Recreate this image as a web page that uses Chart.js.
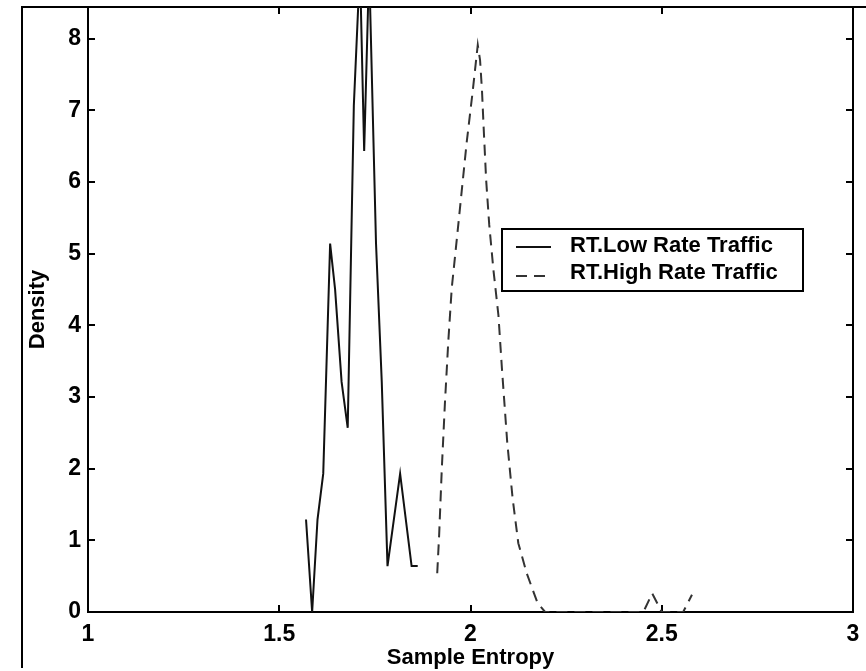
<!DOCTYPE html>
<html>
<head>
<meta charset="utf-8">
<script src="https://cdn.jsdelivr.net/npm/chart.js@4/dist/chart.umd.min.js"></script>
<style>
  html, body { margin: 0; padding: 0; background: #fff; }
  #wrap { width: 866px; height: 671px; position: relative; }
</style>
</head>
<body>
<div id="wrap"><canvas id="c" width="866" height="671"></canvas></div>
<script>
// Sample entropy densities for the two traffic classes
const lowLabel = 'RT.Low Rate Traffic';
const lowX = [1.570, 1.586, 1.600, 1.615, 1.633, 1.646, 1.663, 1.679, 1.695, 1.711, 1.722, 1.735, 1.753, 1.768, 1.783, 1.816, 1.846, 1.862];
const lowY = [1.29, 0.00, 1.29, 1.93, 5.14, 4.50, 3.21, 2.57, 7.07, 9.00, 6.43, 9.00, 5.14, 3.21, 0.64, 1.93, 0.64, 0.64];

const highLabel = 'RT.High Rate Traffic';
const highX = [1.913, 1.918, 1.925, 1.933, 1.942, 1.951, 1.964, 1.977, 1.990, 2.005, 2.019, 2.025, 2.030, 2.034, 2.041, 2.049, 2.060, 2.073, 2.082, 2.096, 2.110, 2.125, 2.147, 2.175, 2.195, 2.300, 2.400, 2.452, 2.475, 2.500, 2.556, 2.579];
const highY = [0.54, 1.07, 2.00, 2.90, 3.78, 4.52, 5.19, 5.87, 6.55, 7.23, 7.91, 7.70, 7.28, 6.80, 6.02, 5.40, 4.77, 4.14, 3.41, 2.37, 1.59, 0.96, 0.54, 0.13, 0.00, 0.00, 0.00, 0.00, 0.26, 0.00, 0.00, 0.24];

const xTicks = [1, 1.5, 2, 2.5, 3];
const yTicks = [0, 1, 2, 3, 4, 5, 6, 7, 8];
const xRange = [1, 3];
const yRange = [0, 8.44];

const FONT = '"Liberation Sans", Arial, Helvetica, sans-serif';
const DASH = [11, 7];

function pairs(xs, ys) { return xs.map((x, i) => ({ x: x, y: ys[i] })); }

// Figure border plus boxed axes with inward ticks on all four sides
const frame = {
  id: 'frame',
  beforeDatasetsDraw(chart) {
    const { ctx, chartArea: a, scales: { x, y } } = chart;
    ctx.save();
    ctx.strokeStyle = '#000';
    ctx.lineWidth = 2;
    ctx.beginPath();
    ctx.moveTo(22, 668); ctx.lineTo(22, a.top); ctx.lineTo(chart.width, a.top);
    ctx.stroke();
    ctx.strokeRect(a.left, a.top, a.right - a.left, a.bottom - a.top);
    const tl = 7;
    ctx.beginPath();
    xTicks.forEach(v => {
      const px = Math.round(x.getPixelForValue(v));
      ctx.moveTo(px, a.bottom); ctx.lineTo(px, a.bottom - tl);
      ctx.moveTo(px, a.top); ctx.lineTo(px, a.top + tl);
    });
    yTicks.forEach(v => {
      const py = Math.round(y.getPixelForValue(v));
      ctx.moveTo(a.left, py); ctx.lineTo(a.left + tl, py);
      ctx.moveTo(a.right, py); ctx.lineTo(a.right - tl, py);
    });
    ctx.stroke();
    ctx.restore();
  }
};

// Boxed legend placed inside the axes
const boxLegend = {
  id: 'boxLegend',
  afterDraw(chart) {
    const { ctx, chartArea: a } = chart;
    const bx = a.left + 414, by = a.top + 222, bw = 301, bh = 62;
    ctx.save();
    ctx.fillStyle = '#fff';
    ctx.fillRect(bx, by, bw, bh);
    ctx.strokeStyle = '#000';
    ctx.lineWidth = 2;
    ctx.strokeRect(bx, by, bw, bh);
    const rows = [
      { ds: chart.data.datasets[0], ly: by + 18, ty: by + 23 },
      { ds: chart.data.datasets[1], ly: by + 47, ty: by + 50 }
    ];
    rows.forEach(r => {
      ctx.beginPath();
      ctx.setLineDash(r.ds.borderDash || []);
      ctx.strokeStyle = r.ds.borderColor;
      ctx.lineWidth = 2;
      ctx.moveTo(bx + 14, r.ly); ctx.lineTo(bx + 49, r.ly);
      ctx.stroke();
      ctx.setLineDash([]);
      ctx.fillStyle = '#000';
      ctx.font = 'bold 22px ' + FONT;
      ctx.textBaseline = 'alphabetic';
      ctx.textAlign = 'left';
      ctx.fillText(r.ds.label, bx + 68, r.ty);
    });
    ctx.restore();
  }
};

new Chart(document.getElementById('c'), {
  type: 'line',
  data: {
    datasets: [
      { label: lowLabel, data: pairs(lowX, lowY), borderColor: '#111', borderWidth: 2,
        pointRadius: 0, tension: 0, fill: false },
      { label: highLabel, data: pairs(highX, highY), borderColor: '#333', borderWidth: 2,
        borderDash: DASH, pointRadius: 0, tension: 0, fill: false }
    ]
  },
  options: {
    responsive: false,
    animation: false,
    devicePixelRatio: 1,
    layout: { padding: { left: 0, top: 7, right: 13, bottom: 0 } },
    plugins: { legend: { display: false }, tooltip: { enabled: false } },
    scales: {
      x: {
        type: 'linear', min: xRange[0], max: xRange[1],
        grid: { display: false, drawTicks: false },
        border: { display: false },
        afterBuildTicks: s => { s.ticks = xTicks.map(v => ({ value: v })); },
        afterFit: s => { s.height = 59; s.paddingLeft = 0; s.paddingRight = 0; },
        ticks: { color: '#000', padding: 9, maxRotation: 0, autoSkip: false,
                 font: { family: FONT, size: 23, weight: 'bold' },
                 callback: v => String(v) },
        title: { display: true, text: 'Sample Entropy', color: '#000',
                 font: { family: FONT, size: 22, weight: 'bold' },
                 padding: { top: 0, bottom: 0 } }
      },
      y: {
        type: 'linear', min: yRange[0], max: yRange[1],
        grid: { display: false, drawTicks: false },
        border: { display: false },
        afterBuildTicks: s => { s.ticks = yTicks.map(v => ({ value: v })); },
        afterFit: s => { s.width = 88; s.paddingTop = 0; s.paddingBottom = 0; },
        ticks: { color: '#000', padding: 7, autoSkip: false,
                 font: { family: FONT, size: 23, weight: 'bold' },
                 callback: v => String(v) },
        title: { display: true, text: 'Density', color: '#000',
                 font: { family: FONT, size: 22, weight: 'bold' },
                 padding: { top: 25, bottom: 0 } }
      }
    }
  },
  plugins: [frame, boxLegend]
});
</script>
</body>
</html>
